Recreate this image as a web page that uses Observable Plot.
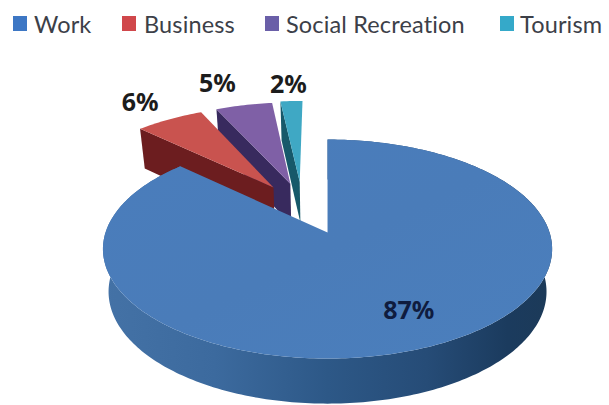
<!DOCTYPE html>
<html>
<head>
<meta charset="utf-8">
<script src="https://cdn.jsdelivr.net/npm/d3@7"></script>
<script src="https://cdn.jsdelivr.net/npm/@observablehq/plot@0.6"></script>
<style>
  html, body { margin: 0; padding: 0; background: #fff; }
  #chart { width: 609px; height: 405px; position: relative; overflow: hidden; }
  .legend { height: 50px; position: relative; font-family: Lato, "Noto Sans", sans-serif; font-size: 23.5px; letter-spacing: 0.15px; color: #3c4048; }
  .legend i { position: absolute; top: 16px; width: 14px; height: 15px; }
  .legend span { position: absolute; top: 9px; line-height: 30px; white-space: nowrap; }
  svg { display: block; }
</style>
</head>
<body>
<div id="chart"></div>
<script>
// Trip purposes and their shares, in percent
const categories = ["Work", "Business", "Social Recreation", "Tourism"];
const shares = [87, 6, 5, 2];

// Slice colours: legend key, top face, cut face
const keyColors = ["#3d77c4", "#d0474b", "#6a5fa8", "#35a9c9"];
const topColors = ["url(#workTop)", "#c9534f", "#7f60a6", "#3fa8c4"];
const faceColors = ["#1f4468", "#6c1d1f", "#382a5e", "#17596a"];

// How far each slice is pulled out of the pie, in radii (across, back)
const pullAcross = [0, -0.26, -0.18, -0.135];
const pullBack = [0, 0.45, 0.49, 0.51];

// Where each percentage sits, in radii from the pie centre and degrees off the slice middle
const labelRadius = [0.74, 1.8, 1.86, 1.75];
const labelTurn = [-3, 1, -3.5, -3.7];

// Legend placement
const keyLeft = [13, 122, 265, 500];
const legendTextLeft = [34, 144, 286, 520];

// Perspective of the tilted disc
const perspective = 0.151;
const depth = 0.395;
const depthFalloff = 0.4;
const rimShrink = 0.975;

// Project a point on the disc to chart units, dropped by `h` (0 = top face, 1 = bottom rim)
function project(u, v, h = 0) {
  const s = 1 / (1 + perspective * v);
  return {x: u * s * (1 - h * (1 - rimShrink)), y: v * s - h * depth * Math.pow(s, depthFalloff)};
}
const toRad = (deg) => (deg * Math.PI) / 180;

// Slice angles, clockwise from twelve o'clock
let running = 0;
const slices = shares.map((value, i) => {
  const start = (running / 100) * 360;
  running += value;
  const end = (running / 100) * 360;
  return {i, value, start, end, mid: (start + end) / 2, du: pullAcross[i], dv: pullBack[i]};
});

const rimPoint = (sl, deg, h) =>
  project(sl.du + Math.sin(toRad(deg)), sl.dv + Math.cos(toRad(deg)), h);
const apexPoint = (sl, h) => project(sl.du, sl.dv, h);
const arc = (sl, h) => d3.range(sl.start, sl.end + 0.5, 1).map((d) => rimPoint(sl, Math.min(d, sl.end), h));

const topFace = (sl) => [apexPoint(sl, 0), ...arc(sl, 0)];
const cutFace = (sl) => [apexPoint(sl, 0), rimPoint(sl, sl.start, 0), rimPoint(sl, sl.start, 1), apexPoint(sl, 1)];
const outerWall = (sl) => [...arc(sl, 0), ...arc(sl, 1).reverse()];

const poly = (points, fill) => Plot.line(points, {x: "x", y: "y", fill, stroke: "none", curve: "linear"});

// Shared gradients for the large slice
function gradients() {
  const stops = (list) => list.map(([o, c]) => `<stop offset="${o}" stop-color="${c}"/>`).join("");
  return d3.create("svg:defs").html(`
    <linearGradient id="workWall" x1="0" x2="1" y1="0" y2="0">
      ${stops([[0, "#4472a6"], [0.25, "#3c6a9e"], [0.5, "#2d5887"], [0.72, "#264c77"], [0.9, "#1b3b5e"], [1, "#1c3a58"]])}
    </linearGradient>
    <linearGradient id="workTop" x1="0" x2="1" y1="0" y2="1">
      ${stops([[0, "#4a7dbc"], [0.5, "#4a7cb9"], [1, "#4b7fbd"]])}
    </linearGradient>`).node();
}

// The small slices are painted back to front, the large one last
const paintOrder = [slices[3], slices[2], slices[1]];
const marks = [gradients];
for (const sl of paintOrder) {
  marks.push(poly(cutFace(sl), faceColors[sl.i]));
  marks.push(poly(topFace(sl), topColors[sl.i]));
}
marks.push(poly(outerWall(slices[0]), "url(#workWall)"));
marks.push(poly(topFace(slices[0]), topColors[0]));

// Percentage labels
const labelData = slices.map((sl) => {
  const a = toRad(sl.mid + labelTurn[sl.i]);
  const p = project(labelRadius[sl.i] * Math.sin(a), labelRadius[sl.i] * Math.cos(a));
  return {x: p.x, y: p.y, text: `${sl.value}%`, fill: sl.i === 0 ? "#0f1c3f" : "#1c1c1c"};
});
marks.push(Plot.text(labelData, {
  x: "x", y: "y", text: "text", fill: "fill",
  fontFamily: "'Noto Sans', sans-serif", fontSize: 25, fontWeight: 700
}));

const plot = Plot.plot({
  width: 609,
  height: 355,
  margin: 0,
  x: {axis: null, domain: [-1.473, 1.27], range: [0, 609]},
  y: {axis: null, domain: [-1.617, 1.701], range: [355, 0]},
  color: {type: "identity"},
  style: {background: "#fff"},
  marks
});

// Legend row above the chart
const legend = d3.create("div").attr("class", "legend");
categories.forEach((name, i) => {
  legend.append("i").style("left", `${keyLeft[i]}px`).style("background", keyColors[i]);
  legend.append("span").style("left", `${legendTextLeft[i]}px`).text(name);
});

const root = document.getElementById("chart");
root.append(legend.node(), plot);
</script>
</body>
</html>
